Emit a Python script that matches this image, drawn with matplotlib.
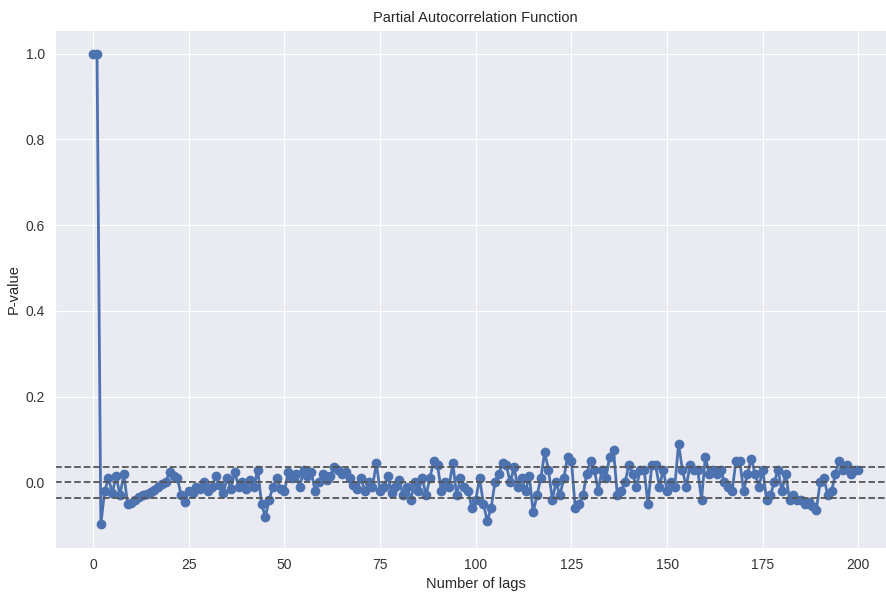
#Partial autocorrelation plot, seaborn darkgrid look
import numpy as np
import matplotlib
matplotlib.use('Agg')
import matplotlib.pyplot as plt
import seaborn as sns

#Data (lags 0..200)
lags=np.arange(0,201)
pacf_values=[
 1.000, 0.999,-0.098,-0.020, 0.010,-0.025, 0.015,-0.030, 0.020,-0.050,
-0.048,-0.040,-0.035,-0.030,-0.028,-0.022,-0.018,-0.010,-0.004, 0.002,
 0.025, 0.015, 0.010,-0.030,-0.045,-0.020,-0.025,-0.010,-0.015, 0.000,
-0.020,-0.010, 0.015,-0.005,-0.025, 0.010,-0.015, 0.025,-0.010, 0.000,
-0.015, 0.005,-0.010, 0.030,-0.050,-0.080,-0.040,-0.010, 0.010,-0.015,
-0.020, 0.025, 0.010, 0.020,-0.010, 0.030, 0.015, 0.025,-0.020, 0.000,
 0.020, 0.005, 0.015, 0.035, 0.030, 0.020, 0.025, 0.010,-0.005,-0.015,
 0.010,-0.020, 0.000,-0.010, 0.045,-0.020,-0.010, 0.015,-0.025,-0.010,
 0.005,-0.030,-0.010,-0.040, 0.000,-0.020, 0.010,-0.030, 0.010, 0.050,
 0.040,-0.020, 0.000,-0.010, 0.045,-0.030, 0.010,-0.010,-0.020,-0.060,
-0.040, 0.010,-0.050,-0.090,-0.060, 0.000, 0.020, 0.045, 0.040, 0.000,
 0.035,-0.010, 0.010,-0.020, 0.015,-0.070,-0.030, 0.010, 0.070, 0.030,
-0.040, 0.000,-0.030, 0.010, 0.060, 0.050,-0.060,-0.050,-0.030, 0.020,
 0.050, 0.030,-0.020, 0.030, 0.010, 0.060, 0.075,-0.030,-0.020, 0.000,
 0.040, 0.020,-0.010, 0.030, 0.030,-0.050, 0.040, 0.040,-0.010, 0.030,
-0.020, 0.000,-0.010, 0.090, 0.030,-0.010, 0.040, 0.030, 0.030,-0.040,
 0.060, 0.020, 0.030, 0.020, 0.030, 0.000,-0.010,-0.020, 0.050, 0.050,
-0.020, 0.020, 0.055, 0.020,-0.010, 0.030,-0.040,-0.030, 0.000, 0.030,
-0.020, 0.020,-0.040,-0.030,-0.040,-0.040,-0.050,-0.045,-0.055,-0.065,
 0.000, 0.010,-0.030,-0.020, 0.020, 0.050, 0.030, 0.040, 0.020, 0.030,
 0.030]
conf_level=0.037

sns.set_style('darkgrid')
plt.rcParams['font.family']=['Liberation Sans','DejaVu Sans']

fig=plt.figure(figsize=(8.86,5.94),dpi=100)
ax=fig.add_axes([0.062,0.0774,0.950,0.872])

ax.plot(lags,pacf_values,marker='o',markersize=6,linewidth=2,color='#4c72b0')
ax.axhline(conf_level,linestyle='--',color='#555555',linewidth=1.3)
ax.axhline(0,linestyle='--',color='#555555',linewidth=1.3)
ax.axhline(-conf_level,linestyle='--',color='#555555',linewidth=1.3)

ax.set_xticks(np.arange(0,201,25))
ax.set_yticks([0.0,0.2,0.4,0.6,0.8,1.0])
ax.tick_params(labelsize=10,colors='#333333')
ax.set_title('Partial Autocorrelation Function',fontsize=10.5,color='#262626')
ax.set_xlabel('Number of lags',fontsize=10.5,color='#262626',labelpad=4)
ax.set_ylabel('P-value',fontsize=10.5,color='#262626')

fig.savefig('out.png',dpi=100)
